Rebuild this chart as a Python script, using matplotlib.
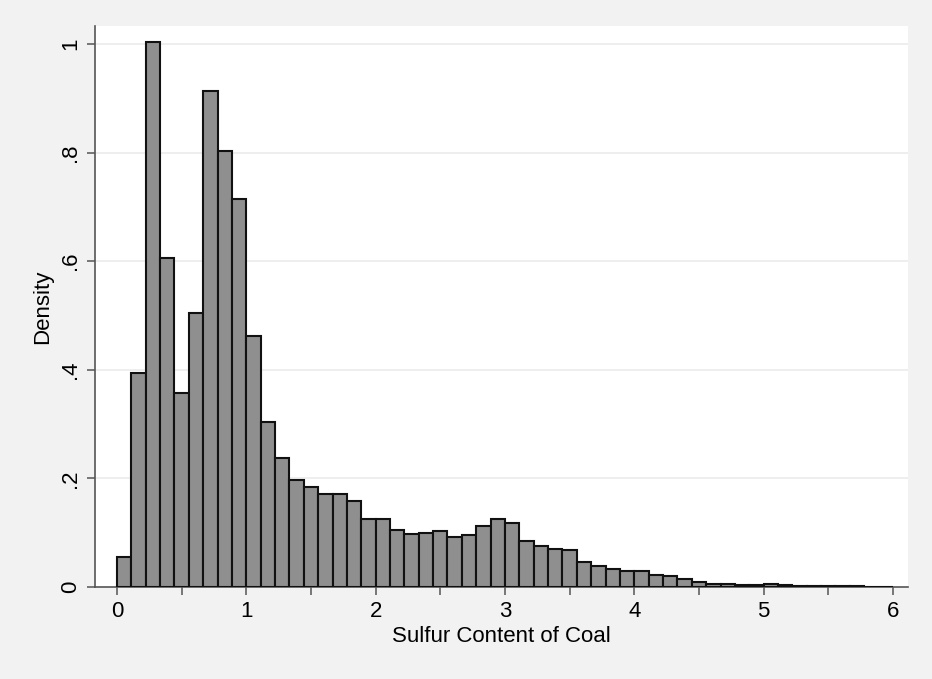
# histogram of sulfur content, density scale

import numpy as np
import matplotlib.pyplot as plt

bin_start = 0.0
bin_width = 1 / 9  # 54 bins over 0..6

density = [
    0.055, 0.394, 1.003, 0.606, 0.357, 0.504, 0.914, 0.802, 0.715, 0.462,
    0.303, 0.238, 0.197, 0.185, 0.171, 0.171, 0.159, 0.125, 0.125, 0.105,
    0.097, 0.100, 0.104, 0.092, 0.096, 0.113, 0.125, 0.117, 0.084, 0.076,
    0.070, 0.068, 0.046, 0.038, 0.034, 0.030, 0.029, 0.023, 0.020, 0.015,
    0.010, 0.005, 0.005, 0.003, 0.003, 0.0055, 0.0035, 0.002, 0.0015, 0.0012,
    0.001, 0.001, 0.0008, 0.0006,
]

x_ticks = [0, 1, 2, 3, 4, 5, 6]
x_minor = [0.5, 1.5, 2.5, 3.5, 4.5, 5.5]
y_ticks = [0, 0.2, 0.4, 0.6, 0.8, 1.0]
y_labels = ['0', '.2', '.4', '.6', '.8', '1']

plt.rcParams['font.family'] = ['Liberation Sans', 'DejaVu Sans']

fig = plt.figure(figsize=(9.32, 6.79), dpi=100)
fig.patch.set_facecolor('#f2f2f2')
ax = fig.add_axes([0.1019, 0.1355, 0.8723, 0.8262])
ax.set_facecolor('white')

left_edges = bin_start + np.arange(len(density)) * bin_width
ax.bar(left_edges, density, width=bin_width, align='edge',
       color='#8f8f8f', edgecolor='#111111', linewidth=1.5, zorder=3)

ax.set_xlim(-0.17, 6.116)
ax.set_ylim(0, 1.033)

ax.set_xticks(x_ticks)
ax.set_xticks(x_minor, minor=True)
ax.set_yticks(y_ticks)
ax.set_yticklabels(y_labels, rotation=90, va='center')

for y in y_ticks[1:]:
    ax.axhline(y, color='#ebebeb', linewidth=1.2, zorder=1)

for side in ['top', 'right']:
    ax.spines[side].set_visible(False)
for side in ['left', 'bottom']:
    ax.spines[side].set_color('#555555')
    ax.spines[side].set_linewidth(1.2)

ax.tick_params(axis='both', which='both', direction='out', length=6,
               width=1.1, color='#555555', labelsize=16, labelcolor='black', pad=4)

ax.set_xlabel('Sulfur Content of Coal', fontsize=16, labelpad=3)
ax.set_ylabel('Density', fontsize=16, labelpad=5)

fig.savefig('out.png', dpi=100, facecolor=fig.get_facecolor())
